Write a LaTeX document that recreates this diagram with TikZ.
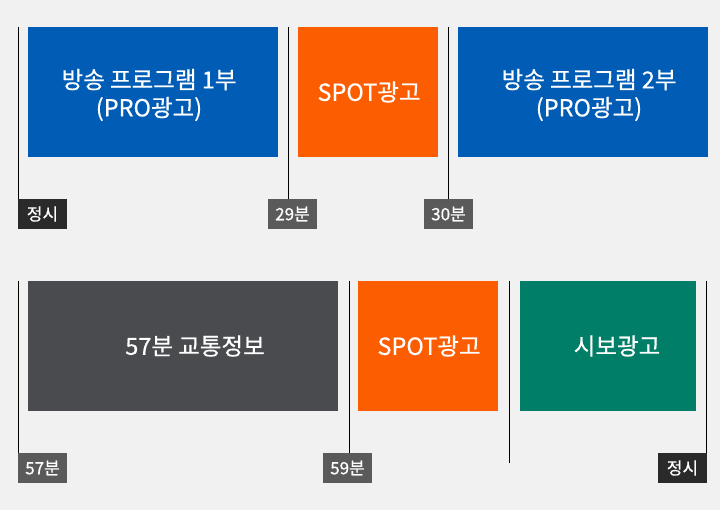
\documentclass[tikz,border=0pt]{standalone}
\usepackage{fontspec}
\setmainfont{Noto Sans CJK KR}[FakeBold=0.5]
\definecolor{cbg}{HTML}{F1F1F1}
\definecolor{cblue}{HTML}{005CB4}
\definecolor{corange}{HTML}{FB5D00}
\definecolor{cgray}{HTML}{4A4B4F}
\definecolor{cgreen}{HTML}{007E67}
\definecolor{labdark}{HTML}{2A2A2A}
\definecolor{labgray}{HTML}{5A5A5A}
\begin{document}
\begin{tikzpicture}[x=1pt,y=-1pt,
  box/.style={inner sep=0pt, outer sep=0pt, anchor=north west, draw=none},
  txt/.style={inner sep=0pt, text=white, align=center, font=\fontsize{23.5}{28}\selectfont},
  lab/.style={inner sep=0pt, outer sep=0pt, anchor=north west, minimum width=49pt, minimum height=30pt, text=white, font=\fontsize{17}{18}\selectfont},
  tick/.style={draw=black, line width=1pt}]
\fill[cbg] (0,0) rectangle (720,510);
\useasboundingbox (0,0) rectangle (720,510);
% top row boxes
\node[box, fill=cblue, minimum width=250pt, minimum height=130pt] (p1) at (28,27) {};
\node[box, fill=corange, minimum width=140pt, minimum height=130pt] (s1) at (298,27) {};
\node[box, fill=cblue, minimum width=250pt, minimum height=130pt] (p2) at (458,27) {};
\node[txt, xshift=-4pt, yshift=-3pt] (p1t) at (p1.center) {방송 프로그램 1부\\(PRO광고)};
\node[txt, xshift=1pt] (s1t) at (s1.center) {SPOT광고};
\node[txt, xshift=6pt, yshift=-3pt] (p2t) at (p2.center) {방송 프로그램 2부\\(PRO광고)};
% bottom row boxes
\node[box, fill=cgray, minimum width=310pt, minimum height=130pt] (tr) at (28,281) {};
\node[box, fill=corange, minimum width=140pt, minimum height=130pt] (s2) at (358,281) {};
\node[box, fill=cgreen, minimum width=176pt, minimum height=130pt] (sb) at (520,281) {};
\node[txt, xshift=12pt] (trt) at (tr.center) {57분 교통정보};
\node[txt, xshift=1pt] (s2t) at (s2.center) {SPOT광고};
\node[txt, xshift=9pt] (sbt) at (sb.center) {시보광고};
% labels
\node[lab, fill=labdark] (l0) at (18,199) {정시};
\node[lab, fill=labgray] (l29) at (268,199) {29분};
\node[lab, fill=labgray] (l30) at (424,199) {30분};
\node[lab, fill=labgray] (l57) at (18,453) {57분};
\node[lab, fill=labgray] (l59) at (323,453) {59분};
\node[lab, fill=labdark] (l60) at (658,453) {정시};
% tick lines
\coordinate (t0) at (18.5,27);
\coordinate (t29) at (288.5,27);
\coordinate (t30) at (448.5,27);
\coordinate (t57) at (18.5,281);
\coordinate (t59) at (349,281);
\coordinate (tm) at (509.5,281);
\coordinate (tmend) at (509.5,463);
\coordinate (t60) at (706,281);
\draw[tick] (t0) -- (t0 |- l0.north);
\draw[tick] (t29) -- (t29 |- l29.north);
\draw[tick] (t30) -- (t30 |- l30.north);
\draw[tick] (t57) -- (t57 |- l57.north);
\draw[tick] (t59) -- (t59 |- l59.north);
\draw[tick] (tm) -- (tmend);
\draw[tick] (t60) -- (t60 |- l60.north);
\end{tikzpicture}
\end{document}
